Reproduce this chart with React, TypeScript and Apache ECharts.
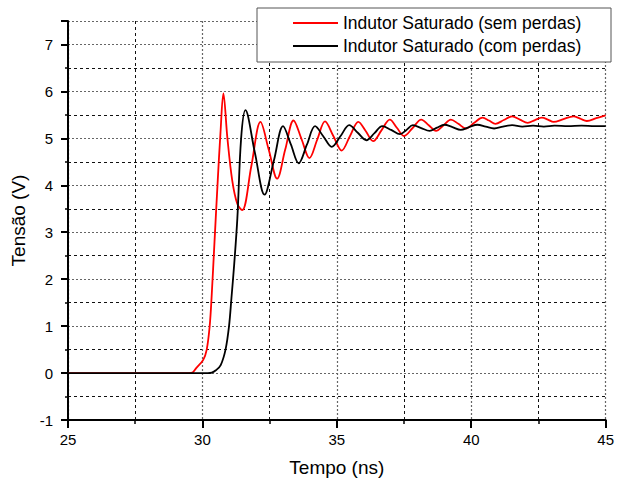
import React, { useEffect, useRef } from "react";
import * as echarts from "echarts";

// Tempo (ns) / Tensão (V)
const redX = [
  25, 29.5, 29.63, 29.76, 30.03, 30.16, 30.27, 30.34, 30.45, 30.57, 30.67, 30.78,
  30.93, 31.11, 31.3, 31.48, 31.82, 32.16, 32.47, 32.78, 33.08, 33.39, 33.69, 33.98,
  34.27, 34.56, 34.87, 35.18, 35.49, 35.8, 36.08, 36.35, 36.66, 36.97, 37.24, 37.5,
  37.82, 38.14, 38.42, 38.69, 38.97, 39.24, 39.52, 39.8, 40.11, 40.42, 40.66, 40.9,
  41.21, 41.52, 41.81, 42.1, 42.37, 42.63, 42.85, 43.06, 43.43, 43.8, 44.05, 44.3,
  44.65, 45,
];
const redY = [
  0, 0, 0.01, 0.1, 0.28, 0.5, 1.0, 1.6, 2.8, 4.1, 5.1, 5.96,
  5.0, 4.1, 3.6, 3.47, 4.41, 5.35, 4.75, 4.14, 4.76, 5.38, 4.98, 4.58,
  4.97, 5.36, 5.05, 4.74, 5.05, 5.35, 5.15, 4.94, 5.17, 5.4, 5.22, 5.05,
  5.22, 5.4, 5.28, 5.16, 5.28, 5.4, 5.31, 5.21, 5.33, 5.44, 5.38, 5.31,
  5.39, 5.47, 5.4, 5.33, 5.39, 5.44, 5.4, 5.35, 5.41, 5.47, 5.42, 5.37,
  5.43, 5.49,
];
const blackX = [
  25, 30.2, 30.35, 30.5, 30.68, 30.86, 30.99, 31.08, 31.18, 31.3, 31.44, 31.6,
  31.95, 32.31, 32.66, 33.0, 33.29, 33.58, 33.89, 34.19, 34.5, 34.81, 35.14, 35.46,
  35.78, 36.1, 36.4, 36.69, 37.02, 37.35, 37.59, 37.83, 38.14, 38.45, 38.73, 39.0,
  39.3, 39.61, 39.92, 40.23, 40.54, 40.85, 41.18, 41.52, 41.9, 42.3, 42.7, 43.1,
  43.6, 44.1, 44.6, 45,
];
const blackY = [
  0, 0, 0.01, 0.06, 0.17, 0.5, 1.0, 1.6, 2.3, 3.3, 5.0, 5.6,
  4.7, 3.8, 4.53, 5.26, 4.87, 4.47, 4.87, 5.26, 5.04, 4.82, 5.05, 5.28,
  5.12, 4.96, 5.11, 5.26, 5.18, 5.09, 5.18, 5.28, 5.22, 5.16, 5.23, 5.29,
  5.24, 5.18, 5.24, 5.29, 5.25, 5.21, 5.25, 5.28, 5.25, 5.27, 5.25, 5.27,
  5.26, 5.27, 5.26, 5.26,
];
const seriesNames = ["Indutor Saturado (sem perdas)", "Indutor Saturado (com perdas)"];
const seriesColors = ["#ff0000", "#000000"];
const xName = "Tempo (ns)";
const yName = "Tensão (V)";

const FONT = "Liberation Sans, Arial, sans-serif";

export default function App() {
  const ref = useRef<HTMLDivElement>(null);
  useEffect(() => {
    if (!ref.current) return;
    const chart = echarts.init(ref.current, undefined, { renderer: "svg" });
    const zip = (xs: number[], ys: number[]) => xs.map((x, i) => [x, ys[i]]);
    const majorSplit = { show: true, lineStyle: { color: "#666", type: [2, 2], width: 1.2 } };
    const minorSplit = { show: true, lineStyle: { color: "#111", type: [3, 3], width: 1 } };
    chart.setOption({
      animation: false,
      backgroundColor: "#fff",
      textStyle: { fontFamily: FONT },
      grid: { left: 68, right: 8, top: 21, bottom: 63, containLabel: false },
      xAxis: {
        type: "value",
        min: 25,
        max: 45,
        interval: 5,
        name: xName,
        nameLocation: "middle",
        nameGap: 38,
        nameTextStyle: { fontSize: 19, color: "#000", fontFamily: FONT },
        axisLine: { show: true, onZero: false, lineStyle: { color: "#000", width: 2 } },
        axisTick: { show: true, length: 8, lineStyle: { color: "#000", width: 2 } },
        minorTick: { show: true, splitNumber: 2, length: 4, lineStyle: { color: "#000", width: 1.5 } },
        axisLabel: { fontSize: 15, color: "#000", margin: 12, fontFamily: FONT },
        splitLine: majorSplit,
        minorSplitLine: minorSplit,
      },
      yAxis: {
        type: "value",
        min: -1,
        max: 7.5,
        interval: 1,
        name: yName,
        nameLocation: "middle",
        nameGap: 40,
        nameRotate: 90,
        nameTextStyle: { fontSize: 19, color: "#000", fontFamily: FONT },
        axisLine: { show: true, onZero: false, lineStyle: { color: "#000", width: 2 } },
        axisTick: { show: true, length: 7, lineStyle: { color: "#000", width: 2 } },
        minorTick: { show: true, splitNumber: 2, length: 3, lineStyle: { color: "#000", width: 1.5 } },
        axisLabel: { fontSize: 15, color: "#000", margin: 15, showMaxLabel: false, fontFamily: FONT },
        splitLine: majorSplit,
        minorSplitLine: minorSplit,
      },
      legend: {
        orient: "vertical",
        left: 293,
        top: 13,
        padding: 0,
        icon: "rect",
        itemWidth: 45,
        itemHeight: 2,
        itemGap: 3,
        z: 10,
        textStyle: { fontSize: 17.5, lineHeight: 20, color: "#000", fontFamily: FONT },
        data: seriesNames,
      },
      graphic: [
        {
          type: "rect",
          z: 5,
          shape: { x: 257, y: 8, width: 354, height: 54 },
          style: { fill: "#fff", stroke: "#555", lineWidth: 1 },
        },
      ],
      series: [
        {
          name: seriesNames[0],
          type: "line",
          data: zip(redX, redY),
          symbol: "none",
          smooth: 0.35,
          color: seriesColors[0],
          lineStyle: { color: seriesColors[0], width: 1.8 },
          z: 3,
        },
        {
          name: seriesNames[1],
          type: "line",
          data: zip(blackX, blackY),
          symbol: "none",
          smooth: 0.35,
          color: seriesColors[1],
          lineStyle: { color: seriesColors[1], width: 1.8 },
          z: 4,
        },
      ],
    });
    return () => chart.dispose();
  }, []);
  return (
    <div
      ref={ref}
      style={{ position: "fixed", left: 0, top: 0, width: 617, height: 483, background: "#fff" }}
    />
  );
}
